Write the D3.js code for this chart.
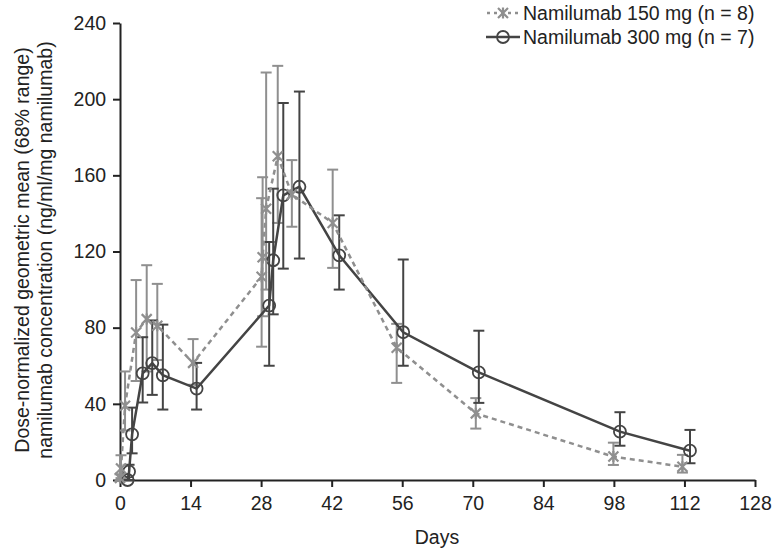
<!DOCTYPE html>
<html>
<head>
<meta charset="utf-8">
<script src="https://cdn.jsdelivr.net/npm/d3@7"></script>
<style>
  body { margin: 0; background: #fff; }
  svg { font-family: "Liberation Sans", Arial, sans-serif; }
</style>
</head>
<body>
<svg id="chart" width="772" height="551"></svg>
<script>
// 150 mg series (grey, dashed, x markers)
const days150 = [0, 0.2, 1, 3.2, 5.3, 7.4, 14.5, 28.1, 28.3, 29, 31.3, 34.1, 42.2, 54.9, 70.6, 97.9, 111.6];
const mean150 = [1, 6, 39, 77.5, 84.5, 81, 61.5, 106.7, 117, 142.5, 170, 150, 135, 69.5, 35, 12.3, 7];
const lo150   = [0, 1, 26, 52, 57, 63, 50, 70, 86, 100, 135, 133, 111.4, 51, 27, 7.9, 3.9];
const hi150   = [3, 13, 57, 105, 112.8, 103, 74, 148, 159, 214, 217.5, 168, 163, 82, 43, 19.6, 13.2];

// 300 mg series (dark, solid, open circles)
const days300 = [1.5, 1.8, 2.4, 4.5, 6.4, 8.5, 15.2, 29.6, 30.4, 32.4, 35.6, 43.5, 56.2, 71.2, 99.2, 113.1];
const mean300 = [0, 4.4, 24, 56, 61.4, 55, 48, 91.6, 115.4, 149.5, 154, 118, 77.6, 56.5, 25.4, 15.4];
const lo300   = [0, 0, 14, 40.7, 44.7, 37, 37, 60, 87, 111, 116.3, 100, 60, 40.5, 18, 8.8];
const hi300   = [0, 8, 38, 75, 83.8, 81.6, 61.5, 125, 153, 198, 204, 139, 115.8, 78.4, 35.6, 26.3];

const xTicks = [0, 14, 28, 42, 56, 70, 84, 98, 112, 126];
const xTickLabels = ["0", "14", "28", "42", "56", "70", "84", "98", "112", "128"];
const yTicks = [0, 40, 80, 120, 160, 200, 240];
const seriesNames = ["Namilumab 150 mg (n = 8)", "Namilumab 300 mg (n = 7)"];

const grey = "#8f8f8f";
const dark = "#444444";
const axisColor = "#222";
const fs = "19.5px";

const svg = d3.select("#chart");
const x = d3.scaleLinear().domain([0, 126]).range([120, 755]);
const y = d3.scaleLinear().domain([0, 240]).range([480, 23]);

// axes
const xAxis = d3.axisBottom(x).tickValues(xTicks)
    .tickFormat((d, i) => xTickLabels[i]).tickSize(7).tickSizeOuter(0);
const yAxis = d3.axisLeft(y).tickValues(yTicks).tickSize(7).tickSizeOuter(0);

const xAxisG = svg.append("g").attr("transform", "translate(0,480)").call(xAxis);
const yAxisG = svg.append("g").attr("transform", "translate(120,0)").call(yAxis);
[xAxisG, yAxisG].forEach(g => {
    g.select(".domain").attr("stroke", axisColor).attr("stroke-width", 2);
    g.selectAll(".tick line").attr("stroke", axisColor).attr("stroke-width", 2);
    g.selectAll(".tick text").attr("fill", "#222").style("font-size", fs);
});
xAxisG.selectAll(".tick text").attr("dy", "1.05em");
yAxisG.selectAll(".tick text").attr("dx", "-0.2em");

// axis titles
svg.append("text").attr("x", 437).attr("y", 544).attr("text-anchor", "middle")
    .attr("fill", "#222").style("font-size", fs).text("Days");
const yl = svg.append("text").attr("transform", "translate(0,250) rotate(-90)")
    .attr("text-anchor", "middle").attr("fill", "#222").style("font-size", fs);
yl.append("tspan").attr("x", 0).attr("y", 29).text("Dose-normalized geometric mean (68% range)");
yl.append("tspan").attr("x", 0).attr("y", 52).text("namilumab concentration (ng/ml/mg namilumab)");

function build(days, mean, lo, hi) {
    return days.map((d, i) => ({ day: d, v: mean[i], lo: lo[i], hi: hi[i] }));
}
const s150 = build(days150, mean150, lo150, hi150);
const s300 = build(days300, mean300, lo300, hi300);

function errorBars(data, color) {
    const g = svg.append("g").attr("stroke", color).attr("stroke-width", 2);
    data.forEach(d => {
        if (d.hi === d.lo) return;
        g.append("line").attr("x1", x(d.day)).attr("x2", x(d.day)).attr("y1", y(d.lo)).attr("y2", y(d.hi));
        [d.lo, d.hi].forEach(v => {
            g.append("line").attr("x1", x(d.day) - 5.5).attr("x2", x(d.day) + 5.5)
                .attr("y1", y(v)).attr("y2", y(v));
        });
    });
}
errorBars(s150, grey);
errorBars(s300, dark);

const line = d3.line().x(d => x(d.day)).y(d => y(d.v));
svg.append("path").datum(s300).attr("d", line).attr("fill", "none")
    .attr("stroke", dark).attr("stroke-width", 2.5);
svg.append("path").datum(s150).attr("d", line).attr("fill", "none")
    .attr("stroke", grey).attr("stroke-width", 2.5).attr("stroke-dasharray", "5,4");

function crossMark(g, cx, cy) {
    const r = 5;
    g.append("path").attr("transform", `translate(${cx},${cy})`)
        .attr("d", `M${-r},${-r}L${r},${r}M${-r},${r}L${r},${-r}M0,${-r * 1.1}L0,${r * 1.1}`)
        .attr("stroke", grey).attr("stroke-width", 2.2).attr("fill", "none");
}
function circleMark(g, cx, cy) {
    g.append("circle").attr("cx", cx).attr("cy", cy).attr("r", 6)
        .attr("fill", "none").attr("stroke", dark).attr("stroke-width", 1.8);
}

const m300 = svg.append("g");
s300.forEach(d => circleMark(m300, x(d.day), y(d.v)));
const m150 = svg.append("g");
s150.forEach(d => crossMark(m150, x(d.day), y(d.v)));

// legend
const leg = svg.append("g");
leg.append("line").attr("x1", 487).attr("x2", 519).attr("y1", 13).attr("y2", 13)
    .attr("stroke", grey).attr("stroke-width", 2.5).attr("stroke-dasharray", "3,4");
crossMark(leg, 503, 13);
leg.append("line").attr("x1", 486).attr("x2", 520).attr("y1", 37).attr("y2", 37)
    .attr("stroke", dark).attr("stroke-width", 2.5);
circleMark(leg, 503, 37);
seriesNames.forEach((n, i) => {
    leg.append("text").attr("x", 523).attr("y", 20 + i * 24).attr("fill", "#222")
        .style("font-size", fs).text(n);
});
</script>
</body>
</html>
